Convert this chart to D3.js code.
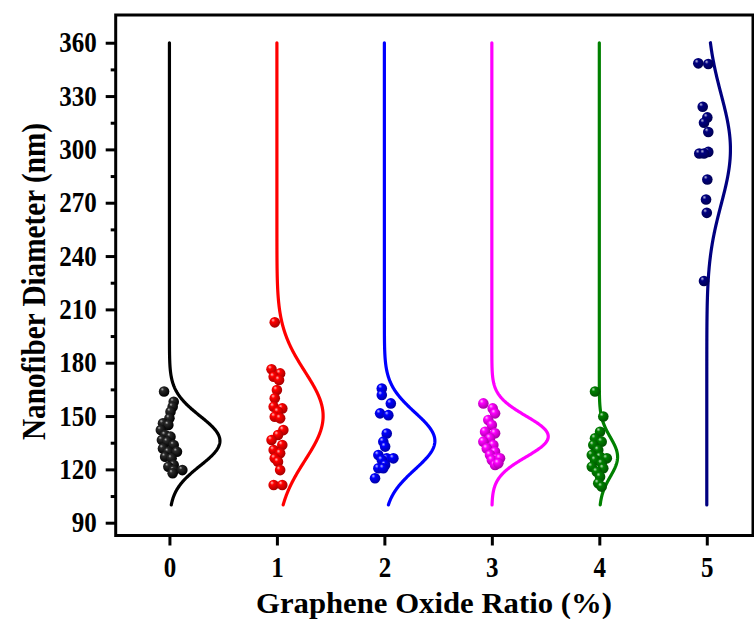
<!DOCTYPE html>
<html>
<head>
<meta charset="utf-8">
<script src="https://cdn.jsdelivr.net/npm/d3@7"></script>
<style>
  html, body { margin: 0; padding: 0; background: #fff; }
  svg { display: block; }
  text { font-family: "Liberation Serif", "Times New Roman", serif; font-weight: bold; fill: #000; }
</style>
</head>
<body>
<svg id="chart" width="754" height="619"></svg>
<script>
// ---------- data ----------
const categories = [0, 1, 2, 3, 4, 5];
const colors = ["#000000", "#ff0000", "#0000ff", "#ff00ff", "#008000", "#000080"];
const yTicks = [90, 120, 150, 180, 210, 240, 270, 300, 330, 360];
const yMinorTicks = [105, 135, 165, 195, 225, 255, 285, 315, 345];

// normal-fit curve parameters
const fitMean = [136, 150, 136, 138.5, 127, 300];
const fitSD = [14, 25, 16, 11.5, 11, 31];
const fitPeak = [0.47, 0.43, 0.47, 0.525, 0.17, 0.22];   // peak width in x units
const fitRange = [100, 360];

// individual fibers (x position in axis units, diameter in nm)
const x0 = [-0.05, 0.04, 0.03, 0.01, 0.0, -0.06, -0.01, -0.08, -0.04, 0.01, -0.07, -0.02, 0.04, -0.06, -0.01, 0.07, -0.04, 0.02, 0.04, -0.01, 0.04, 0.03, 0.12];
const d0 = [163.8, 158, 155.2, 152.4, 148.7, 145.9, 145, 142.1, 139.3, 138.4, 136.5, 135.6, 133.7, 131.8, 129.9, 129.9, 127.1, 126.2, 122.5, 121.5, 119.6, 117.8, 119.6];
const x1 = [0.98, 0.95, 1.03, 0.97, 1.02, 1.0, 0.98, 0.97, 1.05, 1.01, 0.98, 1.03, 1.06, 1.01, 0.95, 1.05, 0.97, 1.03, 0.98, 1.01, 1.03, 0.97, 1.05];
const d1 = [202.7, 176.3, 174, 172.1, 170.3, 164.6, 160, 155.2, 154.3, 152.4, 149.6, 148.7, 142.1, 139.3, 136.5, 133.7, 130.9, 129, 126.2, 124.3, 119.6, 111.2, 111.2];
const x2 = [1.976, 1.976, 2.06, 1.96, 2.037, 2.022, 1.99, 2.007, 1.944, 2.022, 2.084, 1.976, 2.007, 1.944, 1.99, 1.913];
const d2 = [165.5, 161.8, 157.1, 151.5, 150.5, 140.2, 135.6, 132.8, 128.1, 126.2, 126.2, 125.3, 122.5, 120.6, 120.6, 115];
const x3 = [2.921, 3.008, 3.03, 2.967, 3.0, 2.937, 3.03, 2.983, 2.921, 3.014, 2.953, 3.03, 2.983, 3.046, 3.0, 3.076, 3.03, 3.06];
const d3v = [157.1, 154.3, 151.5, 147.8, 145, 141.2, 140.3, 137.5, 135.6, 133.7, 131.8, 129.9, 128.1, 126.2, 125.3, 126.2, 122.5, 123.4];
const x4 = [3.96, 4.037, 4.007, 3.96, 4.022, 3.944, 3.99, 3.93, 4.007, 4.07, 3.96, 4.022, 3.93, 4.037, 3.976, 4.007, 3.99, 4.022];
const d4 = [163.8, 149.7, 141.2, 137.5, 135.6, 133.7, 130.9, 128.1, 127.1, 126.2, 125.3, 123.4, 121.5, 120.6, 118.7, 115.9, 112.2, 110.3];
const x5 = [4.921, 5.014, 4.962, 5.005, 4.974, 5.014, 4.93, 5.014, 4.974, 5.005, 4.993, 5.0, 4.974];
const d5 = [348.4, 348, 324, 318, 315, 309.8, 297.7, 298.6, 297.7, 283.1, 271.8, 264.3, 226];

const xLabel = "Graphene Oxide Ratio (%)";
const yLabel = "Nanofiber Diameter (nm)";

const groupsX = [x0, x1, x2, x3, x4, x5];
const groupsD = [d0, d1, d2, d3v, d4, d5];

// ---------- layout ----------
const svg = d3.select("#chart");
const L = 115.7, R = 753, T = 15, B = 535.5;
const x = d3.scaleLinear().domain([-0.5, 5.43]).range([L, R]);
const y = d3.scaleLinear().domain([82.8, 375.6]).range([B, T]);
const stretch = 1.15;  // tall, narrow look of the original lettering

// gradients for 3D balls
const defs = svg.append("defs");
colors.forEach((c, i) => {
  const g = defs.append("radialGradient").attr("id", "ball" + i)
    .attr("cx", "40%").attr("cy", "38%").attr("r", "62%").attr("fx", "33%").attr("fy", "28%");
  if (i === 0) {
    g.append("stop").attr("offset", "0%").attr("stop-color", "#b8b8b8");
    g.append("stop").attr("offset", "25%").attr("stop-color", "#2a2a2a");
    g.append("stop").attr("offset", "100%").attr("stop-color", "#000");
  } else {
    g.append("stop").attr("offset", "0%").attr("stop-color", d3.interpolateRgb(c, "#ffffff")(0.75));
    g.append("stop").attr("offset", "30%").attr("stop-color", c);
    g.append("stop").attr("offset", "100%").attr("stop-color", d3.color(c).darker(1.2).formatHex());
  }
});

// fit curves
const line = d3.line().x(d => x(d[0])).y(d => y(d[1])).curve(d3.curveLinear);
categories.forEach((cat, i) => {
  const pts = d3.range(fitRange[0], fitRange[1] + 0.01, 0.5).map(v =>
    [cat + fitPeak[i] * Math.exp(-Math.pow(v - fitMean[i], 2) / (2 * fitSD[i] * fitSD[i])), v]);
  svg.append("path").datum(pts).attr("d", line)
    .attr("fill", "none").attr("stroke", colors[i]).attr("stroke-width", 3.2)
    .attr("stroke-linejoin", "round").attr("stroke-linecap", "round");
});

// points
categories.forEach((cat, i) => {
  const data = groupsD[i].map((v, k) => ({ xv: groupsX[i][k], v }));
  svg.append("g").selectAll("circle").data(data).join("circle")
    .attr("cx", d => x(d.xv)).attr("cy", d => y(d.v)).attr("r", 5.3)
    .attr("fill", `url(#ball${i})`);
});

// frame
svg.append("path")
  .attr("d", `M${L},${T} H${R} V${B} H${L} Z`)
  .attr("fill", "none").attr("stroke", "#000").attr("stroke-width", 3);

// y axis
const yAxis = svg.append("g").attr("transform", `translate(${L},0)`)
  .call(d3.axisLeft(y).tickValues(yTicks).tickSize(10).tickPadding(9).tickFormat(d3.format("d")));
yAxis.select(".domain").remove();
yAxis.selectAll("line").attr("stroke-width", 3);
yAxis.selectAll("text").attr("font-size", 25).attr("fill", "#000").attr("font-family", null)
  .attr("dy", null).attr("y", 0).attr("transform", `translate(0,9) scale(1,${stretch})`);

const yMinor = svg.append("g").attr("transform", `translate(${L},0)`)
  .call(d3.axisLeft(y).tickValues(yMinorTicks).tickSize(5).tickFormat(""));
yMinor.select(".domain").remove();
yMinor.selectAll("line").attr("stroke-width", 3);

// x axis
const xAxis = svg.append("g").attr("transform", `translate(0,${B})`)
  .call(d3.axisBottom(x).tickValues(categories).tickSize(10).tickPadding(10).tickFormat(d3.format("d")));
xAxis.select(".domain").remove();
xAxis.selectAll("line").attr("stroke-width", 3);
xAxis.selectAll("text").attr("font-size", 25).attr("fill", "#000").attr("font-family", null)
  .attr("dy", null).attr("y", 0).attr("transform", `translate(0,41) scale(1,${stretch})`);

svg.selectAll(".tick text").style("font-family", '"Liberation Serif", "Times New Roman", serif').style("font-weight", "bold");

// axis titles
svg.append("text").attr("transform", `translate(434,613) scale(1,1.05)`).attr("text-anchor", "middle")
  .attr("font-size", 29).attr("textLength", 356).attr("lengthAdjust", "spacingAndGlyphs")
  .text(xLabel);
svg.append("text").attr("transform", `translate(45,281.5) rotate(-90) scale(1,${stretch})`).attr("text-anchor", "middle")
  .attr("font-size", 30).attr("textLength", 317).attr("lengthAdjust", "spacingAndGlyphs")
  .text(yLabel);
</script>
</body>
</html>
